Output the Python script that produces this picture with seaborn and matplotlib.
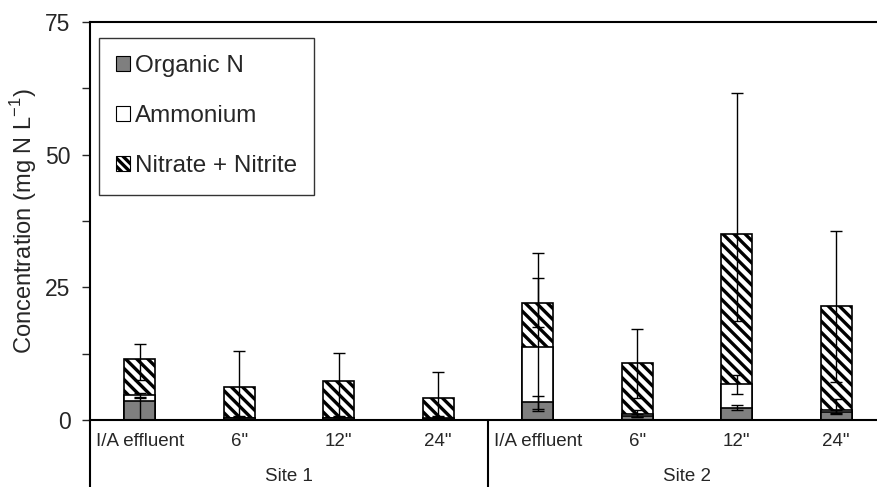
import numpy as np
import pandas as pd
import matplotlib
matplotlib.use("Agg")
import matplotlib.pyplot as plt
import matplotlib.transforms as mtransforms
from matplotlib.patches import Patch
import seaborn as sns

# categories
sites = ["Site 1", "Site 2"]
depths = ["I/A effluent", '6"', '12"', '24"']

# stacked components (mg N / L)
organic = [3.5, 0.3, 0.3, 0.2, 3.3, 0.8, 2.3, 1.5]
ammonium = [1.2, 0.1, 0.1, 0.1, 10.5, 0.3, 4.4, 0.4]
nitrate = [6.8, 5.9, 7.0, 3.9, 8.3, 9.7, 28.3, 19.6]

# error bars (below / above each segment top)
org_lo = [3.5, 0.2, 0.2, 0.2, 1.3, 0.3, 0.5, 0.3]
org_hi = [0.6, 0.2, 0.2, 0.2, 1.3, 0.3, 0.5, 0.3]
amm_lo = [0.3, 0.2, 0.2, 0.2, 12.1, 0.5, 1.8, 0.5]
amm_hi = [0.3, 0.2, 0.2, 0.2, 13.0, 0.8, 1.8, 2.1]
nit_lo = [4.0, 5.5, 6.6, 3.5, 4.6, 6.6, 16.3, 14.3]
nit_hi = [2.9, 6.7, 5.2, 4.9, 9.3, 6.3, 26.7, 14.1]

sns.set_style("white")
plt.rcParams["font.family"] = ["Liberation Sans", "DejaVu Sans"]
plt.rcParams["hatch.linewidth"] = 2.4
plt.rcParams["hatch.color"] = "black"

keys = [s + " " + d for s in sites for d in depths]
org_top = np.array(organic)
amm_top = org_top + np.array(ammonium)
nit_top = amm_top + np.array(nitrate)
df = pd.DataFrame({"key": keys, "org": org_top, "amm": amm_top, "nit": nit_top})

fig = plt.figure(figsize=(8.77, 4.87), dpi=100)
ax = fig.add_axes([90 / 877, 1 - 420 / 487, 787 / 877, 398 / 487])

hatch = "\\" * 3
bar_kw = dict(x="key", order=keys, width=0.31, edgecolor="black", linewidth=1.2,
              saturation=1, errorbar=None, ax=ax)
sns.barplot(data=df, y="nit", color="white", hatch=hatch, **bar_kw)
sns.barplot(data=df, y="amm", color="white", **bar_kw)
sns.barplot(data=df, y="org", color="#7f7f7f", **bar_kw)

pos = np.arange(len(keys))
for top, lo, hi in [(org_top, org_lo, org_hi), (amm_top, amm_lo, amm_hi), (nit_top, nit_lo, nit_hi)]:
    ax.errorbar(pos, top, yerr=[lo, hi], fmt="none", ecolor="black", elinewidth=1,
                capsize=4, capthick=1, zorder=5)

ax.set_xlim(-0.5, 7.41)
ax.set_ylim(0, 75)
ax.set_yticks([0, 25, 50, 75])
ax.set_yticks([12.5, 37.5, 62.5], minor=True)
ax.tick_params(axis="y", which="both", direction="out", length=6, width=1,
               left=True, labelsize=16.5, pad=8)
ax.set_xticks(pos)
ax.set_xticklabels(depths * 2, fontsize=13.5)
ax.tick_params(axis="x", length=0, pad=9)
ax.set_xlabel("")
ax.set_ylabel(r"Concentration (mg N L$^{\mathregular{-1}}$)", fontsize=17, labelpad=4)

for side in ["left", "bottom", "top"]:
    ax.spines[side].set_visible(True)
    ax.spines[side].set_linewidth(1.5)
    ax.spines[side].set_color("black")
ax.spines["right"].set_visible(False)

trans = mtransforms.blended_transform_factory(ax.transData, ax.transAxes)
for xv in [-0.5, 3.5]:
    ax.plot([xv, xv], [0, -0.17], color="black", lw=1.5, transform=trans, clip_on=False)
for i, s in enumerate(sites):
    ax.text(1.5 + 4 * i, -0.141, s, transform=trans, ha="center", va="center", fontsize=13.5)

handles = [Patch(facecolor="#7f7f7f", edgecolor="black", linewidth=0.8, label="Organic N"),
           Patch(facecolor="white", edgecolor="black", linewidth=0.8, label="Ammonium"),
           Patch(facecolor="white", edgecolor="black", linewidth=0.8, hatch="\\" * 4,
                 label="Nitrate + Nitrite")]
leg = ax.legend(handles=handles, loc="upper left", bbox_to_anchor=(0.0114, 0.96),
                borderaxespad=0, fontsize=17.5, frameon=True, fancybox=False,
                handlelength=0.55, handleheight=0.55, handletextpad=0.2,
                labelspacing=1.15, borderpad=0.72)
leg.get_frame().set_edgecolor("black")
leg.get_frame().set_linewidth(1)

fig.savefig("out.png", dpi=100)
